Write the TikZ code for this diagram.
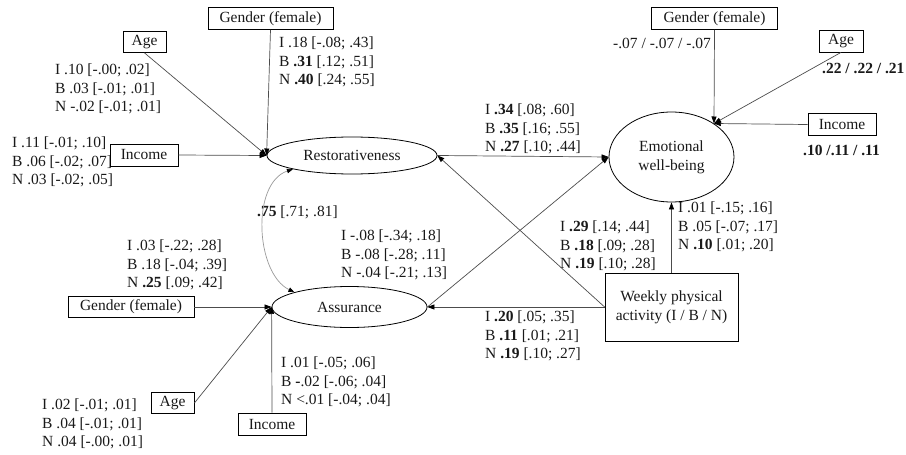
\documentclass[tikz,border=0pt]{standalone}
\usepackage{fontspec}
\setmainfont{Liberation Serif}
\usetikzlibrary{arrows.meta,shapes.geometric}
\begin{document}
\begin{tikzpicture}[x=1pt,y=-1pt,
  every node/.style={font=\fontsize{15.5}{18.7}\selectfont, text=black!90},
  vbox/.style={draw=black, fill=white, line width=0.8pt, inner sep=0pt, minimum height=22pt},
  lat/.style={draw=black, ellipse, line width=0.8pt, inner sep=0pt, fill=white, align=center},
  lbl/.style={anchor=west, align=left, inner sep=0pt},
  pth/.style={draw=black!70, line width=0.7pt, -{Triangle[length=7pt,width=5pt,color=black]}},
  corr/.style={draw=black!40, line width=0.7pt, {Triangle[length=6pt,width=4.5pt,color=black]}-{Triangle[length=6pt,width=4.5pt,color=black]}}
]
\useasboundingbox (0,0) rectangle (906,455);

% labels
\node[lbl] (l1) at (55,89) {I .10 [-.00; .02]\\B .03 [-.01; .01]\\N -.02 [-.01; .01]};
\node[lbl] (l2) at (12,162) {I .11 [-.01; .10]\\B .06 [-.02; .07]\\N .03 [-.02; .05]};
\node[lbl] (l3) at (279,62) {I .18 [-.08; .43]\\B \textbf{.31} [.12; .51]\\N \textbf{.40} [.24; .55]};
\node[lbl] (l4) at (485,129) {I \textbf{.34} [.08; .60]\\B \textbf{.35} [.16; .55]\\N \textbf{.27} [.10; .44]};
\node[lbl] (l5) at (560,246) {I \textbf{.29} [.14; .44]\\B \textbf{.18} [.09; .28]\\N \textbf{.19} [.10; .28]};
\node[lbl] (l6) at (678,227) {I .01 [-.15; .16]\\B .05 [-.07; .17]\\N \textbf{.10} [.01; .20]};
\node[lbl] (l7) at (485,336) {I \textbf{.20} [.05; .35]\\B \textbf{.11} [.01; .21]\\N \textbf{.19} [.10; .27]};
\node[lbl] (l8) at (341,255) {I -.08 [-.34; .18]\\B -.08 [-.28; .11]\\N -.04 [-.21; .13]};
\node[lbl] (l9) at (127,265) {I .03 [-.22; .28]\\B .18 [-.04; .39]\\N \textbf{.25} [.09; .42]};
\node[lbl] (l10) at (42,424) {I .02 [-.01; .01]\\B .04 [-.01; .01]\\N .04 [-.00; .01]};
\node[lbl] (l11) at (281,382) {I .01 [-.05; .06]\\B \textbf{-}.02 [-.06; .04]\\N <.01 [-.04; .04]};
\node[lbl] (l12) at (257,212) {\textbf{.75} [.71; .81]};
\node[lbl] (l13) at (613,43) {-.07 / -.07 / -.07};
\node[lbl] (l14) at (822,68) {\textbf{.22 / .22 / .21}};
\node[lbl] (l15) at (803,150) {\textbf{.10 /.11 / .11}};

% observed variables
\node[vbox, minimum width=125pt] (g1) at (270.5,18.5) {Gender (female)};
\node[vbox, minimum width=43pt, minimum height=21pt] (a1) at (144.5,42) {Age};
\node[vbox, minimum width=68pt] (i1) at (144,155) {Income};
\node[vbox, minimum width=126pt] (g2) at (714.5,18.5) {Gender (female)};
\node[vbox, minimum width=44pt] (a2) at (841,41) {Age};
\node[vbox, minimum width=68pt] (i2) at (842,124.5) {Income};
\node[vbox, minimum width=126pt, minimum height=21pt] (g3) at (131,307) {Gender (female)};
\node[vbox, minimum width=43pt, minimum height=21pt] (a3) at (172.5,403) {Age};
\node[vbox, minimum width=68pt] (i3) at (272,424) {Income};
\node[vbox, minimum width=133pt, minimum height=68pt, align=center] (w) at (671.5,307) {Weekly physical\\activity (I / B / N)};

% latent variables
\node[lat, minimum width=170pt, minimum height=37pt] (r) at (352,155.5) {Restorativeness};
\node[lat, minimum width=155pt, minimum height=41pt] (s) at (349.5,307) {Assurance};
\node[lat, minimum width=125pt, minimum height=90pt] (e) at (671.5,157) {Emotional\\well-being};

\coordinate (ein) at (714,123.5);

% paths
\draw[pth] (g1.south) -- (r.west);
\draw[pth] (a1.south) -- (r.west);
\draw[pth] (i1.east) -- (r.west);
\draw[pth] (g3.east) -- (s.west);
\draw[pth] (a3.east) -- (s.west);
\draw[pth] (i3.north) -- (s.west);
\draw[pth] (g2.south) -- (ein);
\draw[pth] (a2.south) -- (ein);
\draw[pth] (i2.west) -- (ein);
\draw[pth] (r.east) -- (e.west);
\draw[pth] (s.east) -- (e.west);
\draw[pth] (w.west) -- (r.east);
\draw[pth] (w.west) -- (s.east);
\draw[pth] (w.north) -- (e.south);
\draw[corr] (r.193) .. controls +(-42,14) and +(-39,-19) .. (s.165);
\end{tikzpicture}
\end{document}
